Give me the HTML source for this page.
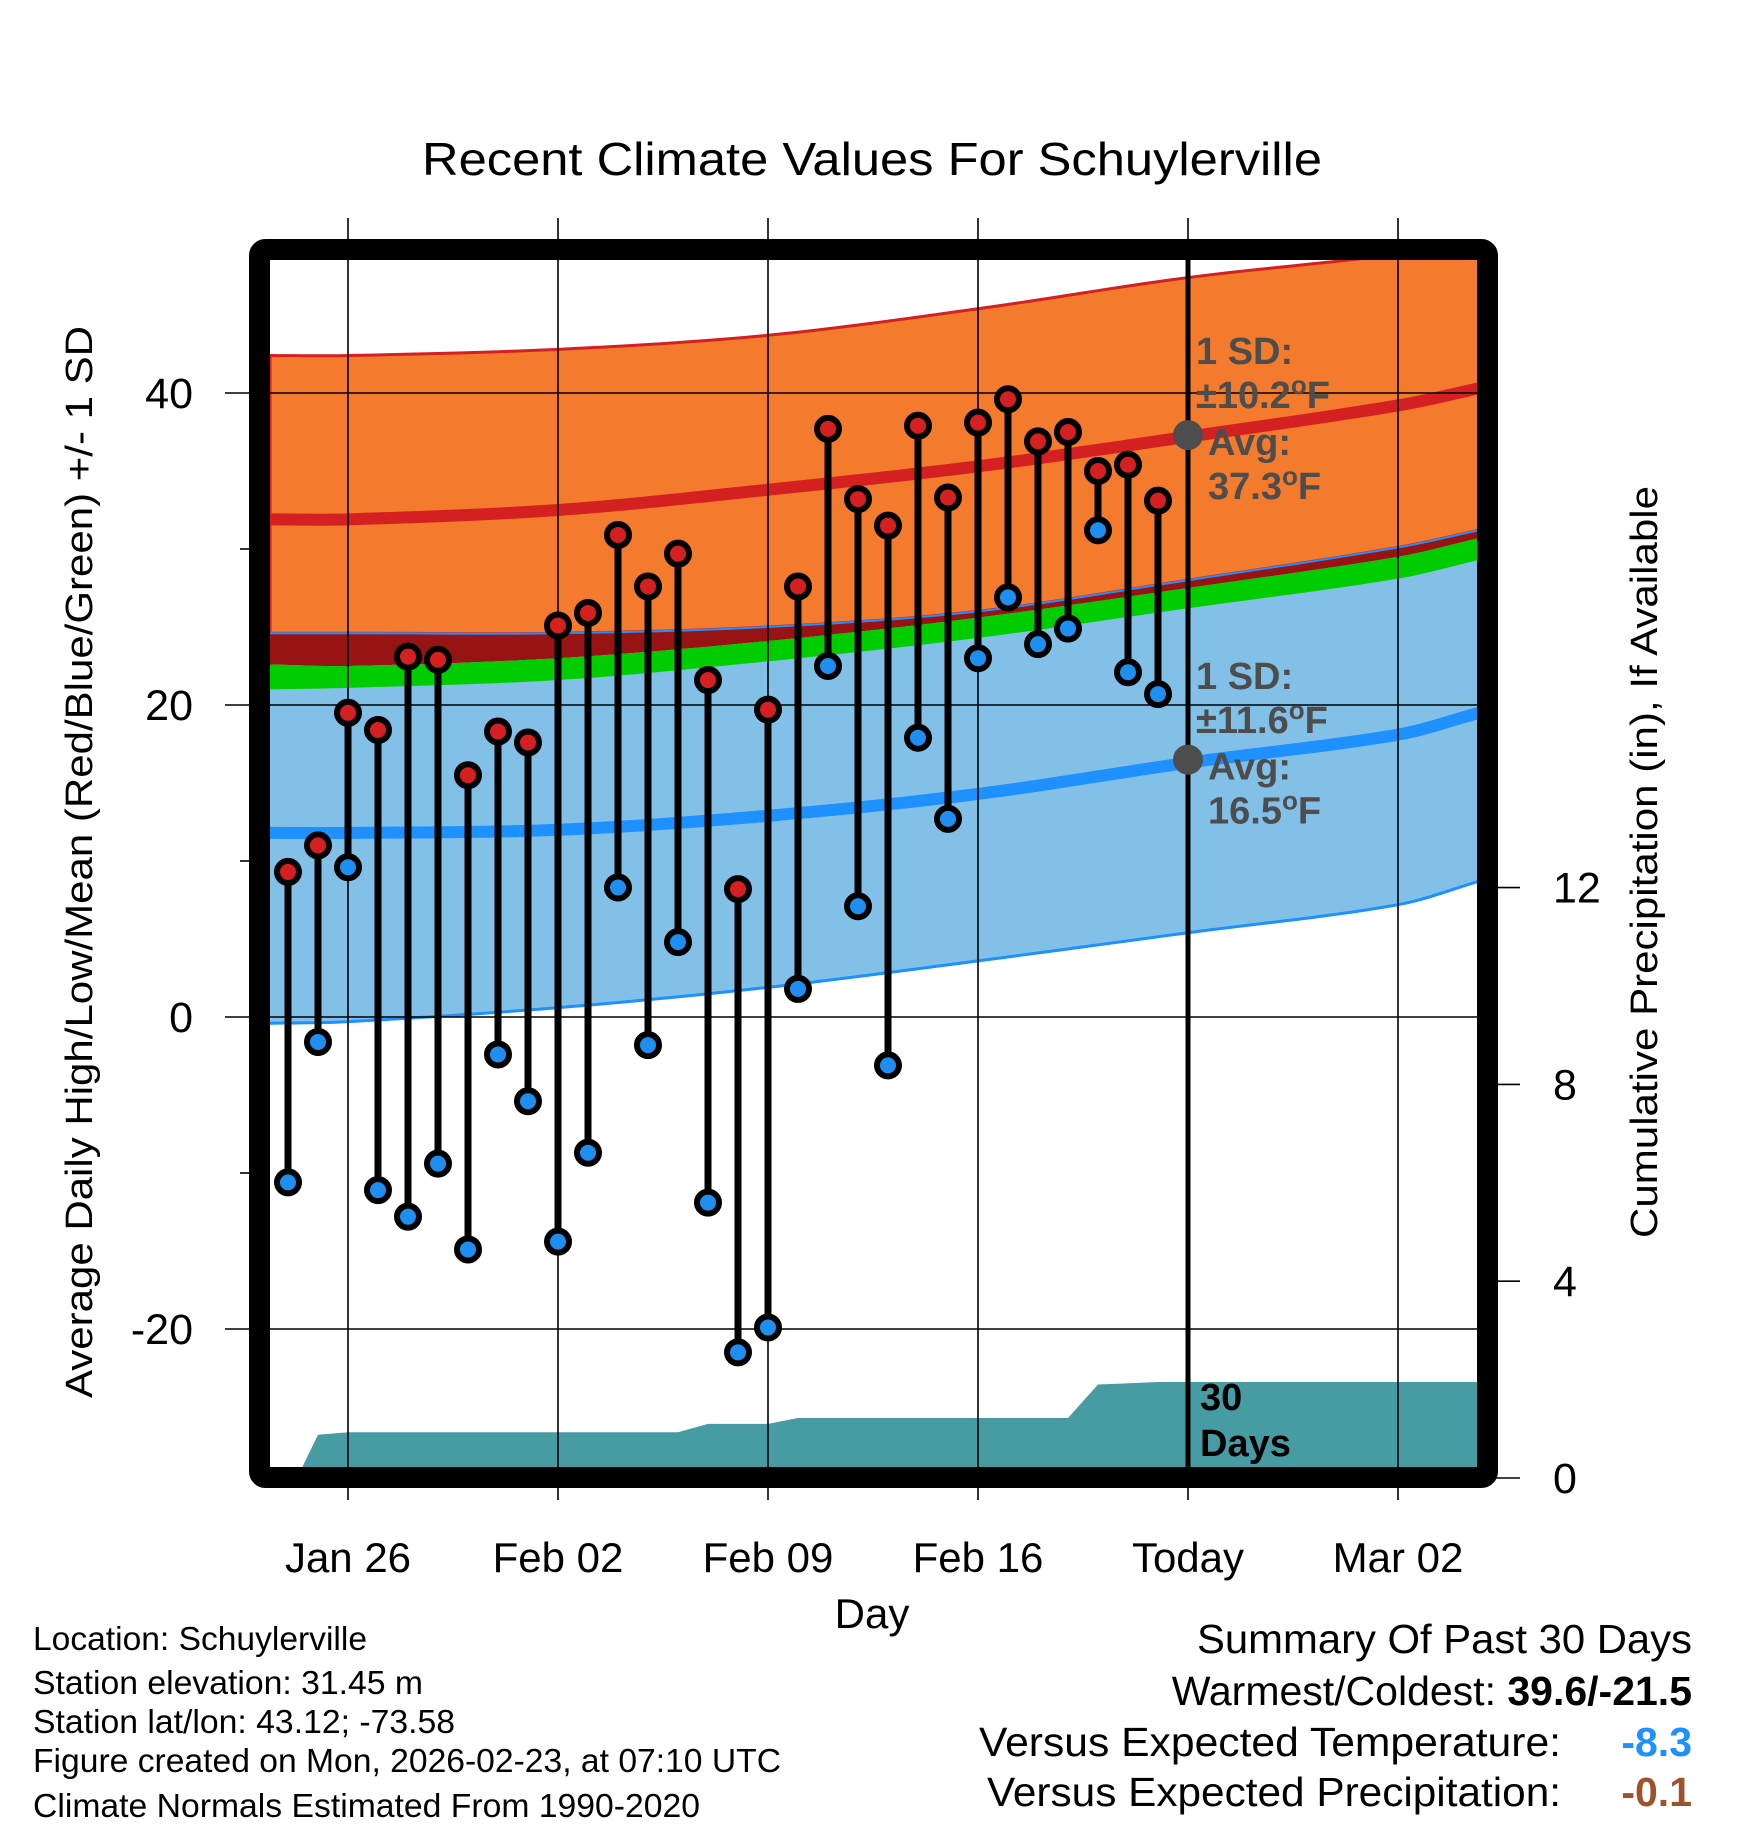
<!DOCTYPE html>
<html><head><meta charset="utf-8"><style>
html,body{margin:0;padding:0;background:#fff}
svg{display:block;font-family:"Liberation Sans",sans-serif}
</style></head><body>
<svg id="chart" width="1748" height="1828" viewBox="0 0 1748 1828" xmlns="http://www.w3.org/2000/svg">
<text x="872" y="175" font-size="46" text-anchor="middle" textLength="900" lengthAdjust="spacingAndGlyphs">Recent Climate Values For Schuylerville</text>
<g id="plot"></g>
<g id="axes"></g>
<text x="872" y="1628" font-size="42" text-anchor="middle">Day</text>
<text transform="translate(92,862) rotate(-90)" font-size="38" text-anchor="middle" textLength="1072" lengthAdjust="spacingAndGlyphs">Average Daily High/Low/Mean (Red/Blue/Green) +/- 1 SD</text>
<text transform="translate(1657,862) rotate(-90)" font-size="38" text-anchor="middle" textLength="752" lengthAdjust="spacingAndGlyphs">Cumulative Precipitation (in), If Available</text>
<g font-size="33">
<text x="33" y="1650" textLength="334" lengthAdjust="spacingAndGlyphs">Location: Schuylerville</text>
<text x="33" y="1694" textLength="390" lengthAdjust="spacingAndGlyphs">Station elevation: 31.45 m</text>
<text x="33" y="1733" textLength="422" lengthAdjust="spacingAndGlyphs">Station lat/lon: 43.12; -73.58</text>
<text x="33" y="1772" textLength="748" lengthAdjust="spacingAndGlyphs">Figure created on Mon, 2026-02-23, at 07:10 UTC</text>
<text x="33" y="1817" textLength="667" lengthAdjust="spacingAndGlyphs">Climate Normals Estimated From 1990-2020</text>
</g>
<g font-size="41">
<text x="1692" y="1653" text-anchor="end" textLength="495" lengthAdjust="spacingAndGlyphs">Summary Of Past 30 Days</text>
<text x="1692" y="1705" text-anchor="end">Warmest/Coldest: <tspan font-weight="bold">39.6/-21.5</tspan></text>
<text x="1561" y="1756" text-anchor="end" textLength="582" lengthAdjust="spacingAndGlyphs">Versus Expected Temperature:</text>
<text x="1692" y="1756" text-anchor="end" font-weight="bold" fill="#1e90ff">-8.3</text>
<text x="1561" y="1806" text-anchor="end" textLength="574" lengthAdjust="spacingAndGlyphs">Versus Expected Precipitation:</text>
<text x="1692" y="1806" text-anchor="end" font-weight="bold" fill="#a0522d">-0.1</text>
</g>
</svg>
<script>
// ---- data ----
const dayOffsets = [-2,-1,0,1,2,3,4,5,6,7,8,9,10,11,12,13,14,15,16,17,18,19,20,21,22,23,24,25,26,27]; // days from Jan 26
const highs = [9.3,11.0,19.5,18.4,23.1,22.9,15.5,18.3,17.6,25.1,25.9,30.9,27.6,29.7,21.6,8.2,19.7,27.6,37.7,33.2,31.5,37.9,33.3,38.1,39.6,36.9,37.5,35.0,35.4,33.1];
const lows = [-10.6,-1.6,9.6,-11.1,-12.8,-9.4,-14.9,-2.4,-5.4,-14.4,-8.7,8.3,-1.8,4.8,-11.9,-21.5,-19.9,1.8,22.5,7.1,-3.1,17.9,12.7,23.0,26.9,23.9,24.9,31.2,22.1,20.7];
const normDays = [-2.6,0,7,14,21,28,35,37.7];
const orangeTop = [42.4,42.4,42.8,43.7,45.4,47.4,48.9,49.8];
const avgHigh = [31.9,31.9,32.5,33.8,35.3,37.2,39.2,40.3];
const orangeBottom = [24.6,24.6,24.6,25.0,26.0,28.0,30.1,31.2];
const darkRedBottom = [22.6,22.5,23.0,24.1,25.6,27.5,29.5,30.7];
const greenBottom = [21.0,21.1,21.6,22.8,24.3,26.2,28.1,29.3];
const avgLow = [11.8,11.8,12.0,12.9,14.3,16.3,18.1,19.5];
const blueBottom = [-0.4,-0.3,0.6,1.9,3.6,5.4,7.2,8.7];
const precipDays = [-1.7,-1,0,5,11,12,14,15,24,25,27,37.7];
const precipVals = [0,0.88,0.93,0.93,0.93,1.1,1.1,1.22,1.22,1.9,1.95,1.95];
const tempTicks = [40,20,0,-20];
const minorTicks = [30,10,-10];
const precipTicks = [0,4,8,12];
const xTickDays = [0,7,14,21,28,35];
const xTickLabels = ["Jan 26","Feb 02","Feb 09","Feb 16","Today","Mar 02"];
const todayDay = 28;

// ---- scales ----
const L=270,R=1478,T=260,B=1468;
const X=d=>348+30*d;
const Y=t=>1017-15.6*t;
const P=p=>1478-49.2*p;
const NS="http://www.w3.org/2000/svg";
const plot=document.getElementById('plot'), axes=document.getElementById('axes');
function mk(tag,attrs,parent){const e=document.createElementNS(NS,tag);for(const k in attrs)e.setAttribute(k,attrs[k]);parent.appendChild(e);return e;}
// smooth (Catmull-Rom) sampling of a normals array
function smooth(v){
  const pts=[];const n=normDays.length;
  for(let i=0;i<n-1;i++){
    const x0=normDays[Math.max(i-1,0)],x1=normDays[i],x2=normDays[i+1],x3=normDays[Math.min(i+2,n-1)];
    const y0=v[Math.max(i-1,0)],y1=v[i],y2=v[i+1],y3=v[Math.min(i+2,n-1)];
    const m1=(y2-y0)/((x2-x0)||1),m2=(y3-y1)/((x3-x1)||1);
    const h=x2-x1;
    for(let k=0;k<10;k++){const t=k/10;const t2=t*t,t3=t2*t;
      const y=(2*t3-3*t2+1)*y1+(t3-2*t2+t)*h*m1+(-2*t3+3*t2)*y2+(t3-t2)*h*m2;
      pts.push([x1+h*t,y]);}
  }
  pts.push([normDays[n-1],v[n-1]]);
  return pts;
}
function band(top,bot){const a=smooth(top),b=smooth(bot).reverse();
  return a.map((p,i)=>(i?'L':'M')+X(p[0])+','+Y(p[1])).join('')+b.map(p=>'L'+X(p[0])+','+Y(p[1])).join('')+'Z';}
function line(v){return smooth(v).map((p,i)=>(i?'L':'M')+X(p[0])+','+Y(p[1])).join('');}

const defs=mk('defs',{},plot);
const cp=mk('clipPath',{id:'clip'},defs);mk('rect',{x:L,y:T,width:R-L,height:B-T},cp);
const g=mk('g',{'clip-path':'url(#clip)'},plot);



let e;
e=mk('path',{d:band(darkRedBottom,blueBottom),fill:'#82c0e8'},g);


e=mk('path',{d:line(blueBottom),fill:'none',stroke:'#1e90ff','stroke-width':3},g);


e=mk('path',{d:band(orangeTop,orangeBottom),fill:'#f47a2d',stroke:'#d42020','stroke-width':3},g);


e=mk('path',{d:band(orangeBottom,darkRedBottom),fill:'#981414'},g);


e=mk('path',{d:band(darkRedBottom,greenBottom),fill:'#00cc00'},g);


e=mk('path',{d:line(orangeBottom),fill:'none',stroke:'#1e90ff','stroke-width':2},g);


e=mk('path',{d:line(avgHigh),fill:'none',stroke:'#d42020','stroke-width':12},g);


e=mk('path',{d:line(avgLow),fill:'none',stroke:'#1e90ff','stroke-width':12},g);



// precip area
let ps='M'+X(precipDays[0])+','+B;
precipDays.forEach((d,i)=>{ps+='L'+X(d)+','+P(precipVals[i]);});
ps+='L'+X(precipDays[precipDays.length-1])+','+B+'Z';
e=mk('path',{d:ps,fill:'#479ba3'},g);



// gridlines
tempTicks.forEach(t=>{
  e=mk('line',{x1:225,x2:R,y1:Y(t),y2:Y(t),stroke:'#000','stroke-width':1.6},axes);
  
  
  e=mk('text',{x:193,y:Y(t)+15,'font-size':43,'text-anchor':'end'},axes);e.textContent=t;
  
  
});
minorTicks.forEach(t=>{
  e=mk('line',{x1:240,x2:252,y1:Y(t),y2:Y(t),stroke:'#000','stroke-width':1.6},axes);
  
  
});
xTickDays.forEach((d,i)=>{
  e=mk('line',{x1:X(d),x2:X(d),y1:218,y2:1500,stroke:'#000','stroke-width':1.6},axes);
  
  
  e=mk('text',{x:X(d),y:1572,'font-size':42,'text-anchor':'middle'},axes);e.textContent=xTickLabels[i];
  
  
});
precipTicks.forEach(p=>{
  e=mk('line',{x1:1488,x2:1520,y1:P(p),y2:P(p),stroke:'#000','stroke-width':1.6},axes);
  
  
  e=mk('text',{x:1553,y:P(p)+15,'font-size':43},axes);e.textContent=p;
  
  
});

// today line
e=mk('line',{x1:X(todayDay),x2:X(todayDay),y1:T,y2:B,stroke:'#000','stroke-width':5},axes);



// daily bars
dayOffsets.forEach((d,i)=>{
  const x=X(d);
  e=mk('line',{x1:x,x2:x,y1:Y(highs[i]),y2:Y(lows[i]),stroke:'#000','stroke-width':7},axes);
  
  
});
dayOffsets.forEach((d,i)=>{
  const x=X(d);
  e=mk('circle',{cx:x,cy:Y(highs[i]),r:11,fill:'#d42020',stroke:'#000','stroke-width':6},axes);
  
  
  e=mk('circle',{cx:x,cy:Y(lows[i]),r:11,fill:'#1e8ff0',stroke:'#000','stroke-width':6},axes);
  
  
});

// annotations
function ann(avg,sd,yTop,name){
  const gg=mk('g',{fill:'#4d4d4d','font-weight':'bold','font-size':38},axes);
  
  
  const x=X(todayDay);
  let t=mk('text',{x:x+8,y:yTop},gg);t.textContent='1 SD:';
  t=mk('text',{x:x+8,y:yTop+44},gg);t.innerHTML='±'+sd.toFixed(1)+'<tspan dy="-14" font-size="26">o</tspan><tspan dy="14">F</tspan>';
  mk('circle',{cx:x,cy:Y(avg),r:15,fill:'#4d4d4d'},gg);
  t=mk('text',{x:x+20,y:Y(avg)+20},gg);t.textContent='Avg:';
  t=mk('text',{x:x+20,y:Y(avg)+64},gg);t.innerHTML=avg.toFixed(1)+'<tspan dy="-14" font-size="26">o</tspan><tspan dy="14">F</tspan>';
}
ann(37.3,10.2,364,'high-annotation');
ann(16.5,11.6,689,'low-annotation');

e=mk('text',{x:1200,y:1410,'font-size':38,'font-weight':'bold'},axes);e.textContent='30';


e=mk('text',{x:1200,y:1456,'font-size':38,'font-weight':'bold'},axes);e.textContent='Days';



// frame
e=mk('rect',{x:259.5,y:249.5,width:1228,height:1228,rx:6,fill:'none',stroke:'#000','stroke-width':21},axes);


</script>
</body></html>
